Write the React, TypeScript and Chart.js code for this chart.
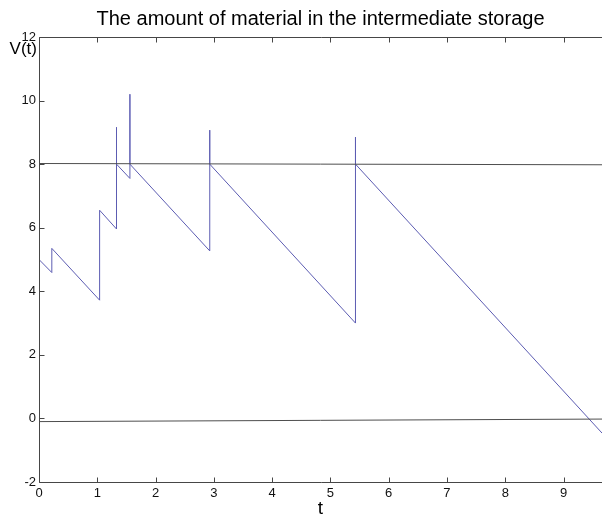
import { useEffect, useRef } from 'react';
import { Chart, registerables } from 'chart.js';

Chart.register(...registerables);

const TITLE = 'The amount of material in the intermediate storage';
const X_LABEL = 't';
const Y_LABEL = 'V(t)';

const xTicks = [0, 1, 2, 3, 4, 5, 6, 7, 8, 9];
const yTicks = [-2, 0, 2, 4, 6, 8, 10, 12];
const X_MIN = 0;
const X_MAX = 9.66;
const Y_MIN = -2;
const Y_MAX = 12;

// Amount of material V(t) in the intermediate storage (blue)
const storageT = [0, 0.22, 0.22, 1.04, 1.04, 1.33, 1.33, 1.33, 1.56, 1.56, 1.56, 2.93, 2.93, 2.93, 5.43, 5.43, 5.43, 9.66];
const storageV = [5.0, 4.59, 5.35, 3.72, 6.55, 5.96, 9.16, 8.0, 7.55, 10.2, 8.0, 5.27, 9.07, 8.0, 3.0, 8.85, 8.0, -0.46];

// Upper limit line
const upperT = [0, 9.66];
const upperV = [8.02, 7.98];

// Lower limit line
const lowerT = [0, 9.66];
const lowerV = [-0.1, -0.02];

const FONT = 'Arial, "Liberation Sans", sans-serif';
const BLUE = 'rgb(92, 92, 178)';
const DARK = 'rgb(78, 78, 78)';
const FRAME = 'rgb(70, 70, 70)';

const toPoints = (xs: number[], ys: number[]) => xs.map((x, i) => ({ x, y: ys[i] }));

const framePlugin = {
  id: 'frameTicks',
  afterDraw(chart: any) {
    const { ctx, chartArea, scales } = chart;
    const { left, right, top, bottom } = chartArea;
    const xs = scales.x;
    const ys = scales.y;
    const L = Math.round(left) + 0.5;
    const T = Math.round(top) + 0.5;
    const B = Math.round(bottom) + 0.5;
    const tick = 5;
    ctx.save();
    ctx.strokeStyle = FRAME;
    ctx.lineWidth = 1;
    ctx.beginPath();
    ctx.moveTo(right + 2, T);
    ctx.lineTo(L, T);
    ctx.lineTo(L, B);
    ctx.lineTo(right + 2, B);
    xTicks.forEach((v) => {
      const px = Math.round(xs.getPixelForValue(v)) + 0.5;
      ctx.moveTo(px, B);
      ctx.lineTo(px, B - tick);
      ctx.moveTo(px, T);
      ctx.lineTo(px, T + tick);
    });
    yTicks.forEach((v) => {
      const py = Math.round(ys.getPixelForValue(v)) + 0.5;
      ctx.moveTo(L, py);
      ctx.lineTo(L + tick, py);
    });
    ctx.stroke();

    // horizontal y-axis label
    ctx.fillStyle = '#000';
    ctx.font = `17px ${FONT}`;
    ctx.textAlign = 'right';
    ctx.textBaseline = 'alphabetic';
    ctx.fillText(Y_LABEL, left - 2, top + 17);
    ctx.restore();
  },
};

export default function App() {
  const ref = useRef<HTMLCanvasElement | null>(null);

  useEffect(() => {
    if (!ref.current) return;
    const chart = new Chart(ref.current, {
      type: 'line',
      data: {
        datasets: [
          {
            label: 'upper',
            data: toPoints(upperT, upperV),
            borderColor: DARK,
            borderWidth: 1,
            pointRadius: 0,
            tension: 0,
          },
          {
            label: 'lower',
            data: toPoints(lowerT, lowerV),
            borderColor: DARK,
            borderWidth: 1,
            pointRadius: 0,
            tension: 0,
          },
          {
            label: 'V(t)',
            data: toPoints(storageT, storageV),
            borderColor: BLUE,
            borderWidth: 1,
            pointRadius: 0,
            tension: 0,
          },
        ],
      },
      options: {
        animation: false,
        responsive: false,
        events: [],
        layout: { padding: 0 },
        plugins: {
          legend: { display: false },
          tooltip: { enabled: false },
          title: {
            display: true,
            text: TITLE,
            fullSize: false,
            color: '#000',
            font: { family: FONT, size: 20, weight: 'normal' },
            padding: { top: 7, bottom: 6 },
          },
        },
        scales: {
          x: {
            type: 'linear',
            min: X_MIN,
            max: X_MAX,
            grid: { display: false, drawTicks: false },
            border: { display: false },
            afterBuildTicks: (scale: any) => {
              scale.ticks = xTicks.map((value) => ({ value }));
            },
            afterFit: (scale: any) => {
              scale.height = 38;
            },
            ticks: {
              color: '#111',
              font: { family: FONT, size: 13 },
              padding: 4,
              maxRotation: 0,
              autoSkip: false,
            },
            title: {
              display: true,
              text: X_LABEL,
              color: '#000',
              font: { family: FONT, size: 19 },
              padding: { top: 0, bottom: 0 },
            },
          },
          y: {
            type: 'linear',
            min: Y_MIN,
            max: Y_MAX,
            grid: { display: false, drawTicks: false },
            border: { display: false },
            afterBuildTicks: (scale: any) => {
              scale.ticks = yTicks.map((value) => ({ value }));
            },
            afterFit: (scale: any) => {
              scale.width = 39;
            },
            ticks: {
              color: '#111',
              font: { family: FONT, size: 13 },
              padding: 3,
              autoSkip: false,
            },
          },
        },
      },
      plugins: [framePlugin],
    });
    return () => chart.destroy();
  }, []);

  return (
    <div style={{ position: 'absolute', left: 0, top: 0, width: 602, height: 520, background: '#fff' }}>
      <canvas ref={ref} width={602} height={520} style={{ display: 'block' }} />
    </div>
  );
}
